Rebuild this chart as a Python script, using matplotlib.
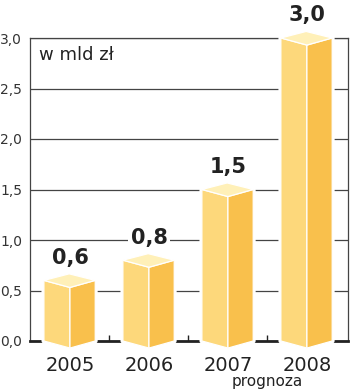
import matplotlib
matplotlib.use("Agg")
import matplotlib.pyplot as plt

years = ["2005", "2006", "2007", "2008"]
values = [0.6, 0.8, 1.5, 3.0]
value_labels = ["0,6", "0,8", "1,5", "3,0"]
y_ticks = [0.0, 0.5, 1.0, 1.5, 2.0, 2.5, 3.0]
y_tick_labels = ["0,0", "0,5", "1,0", "1,5", "2,0", "2,5", "3,0"]

C_FRONT, C_SIDE, C_TOP, C_INK = "#FDD87B", "#F9C04C", "#FFF0B8", "#222222"

fig = plt.figure(figsize=(3.5, 3.89), dpi=100)
ax = fig.add_axes([30 / 350, 48 / 389, 318 / 350, 303 / 389])
ax.set_xlim(-0.506, 3.52)
ax.set_ylim(0, 3.0)

# grid + frame
ax.set_axisbelow(True)
ax.yaxis.grid(True, color="#444444", lw=0.9)
for s in ["left", "right", "top"]:
    ax.spines[s].set_color("#444444")
    ax.spines[s].set_linewidth(0.9)
ax.spines["bottom"].set_color(C_INK)
ax.spines["bottom"].set_linewidth(2)

# pseudo-3D boxes: front edge at the category position
wl, wr, dfront, dback = 0.33, 0.32, 0.07, 0.065
for i, v in enumerate(values):
    outline = [(i - wl, 0), (i - wl, v), (i + wr - wl, v + dback),
               (i + wr, v), (i + wr, 0), (i, -dfront)]
    xs, ys = zip(*outline)
    # white halo that cuts the grid lines around each box
    ax.fill(xs, ys, facecolor="white", edgecolor="white", lw=3.5,
            joinstyle="round", zorder=3, clip_on=False)
    left = [(i - wl, 0), (i - wl, v), (i, v - dfront), (i, -dfront)]
    right = [(i, -dfront), (i, v - dfront), (i + wr, v), (i + wr, 0)]
    top = [(i - wl, v), (i, v - dfront), (i + wr, v), (i + wr - wl, v + dback)]
    for poly, c in [(left, C_FRONT), (right, C_SIDE), (top, C_TOP)]:
        xs, ys = zip(*poly)
        ax.fill(xs, ys, facecolor=c, edgecolor="white", lw=0.9,
                joinstyle="round", zorder=3.5, clip_on=False)
    ax.text(i, v + 0.125, value_labels[i], ha="center", va="bottom",
            fontsize=15, fontweight="bold", color=C_INK, zorder=4,
            bbox=dict(facecolor="white", edgecolor="none", pad=2))

ax.set_yticks(y_ticks)
ax.set_yticklabels(y_tick_labels, fontsize=10, color="#333333", ha="left")
ax.tick_params(axis="y", length=0, pad=21.6)

ax.set_xticks(range(len(years)))
ax.set_xticklabels(years, fontsize=14, color=C_INK)
ax.tick_params(axis="x", which="major", length=0, pad=11)
ax.set_xticks([0.5, 1.5, 2.5], minor=True)
ax.tick_params(axis="x", which="minor", direction="in", length=4.5,
               width=1, color=C_INK)

ax.text(0.028, 0.975, "w mld zł", transform=ax.transAxes, ha="left", va="top",
        fontsize=13, color=C_INK)
ax.annotate("prognoza", xy=(2.5, 0), xycoords=("data", "axes fraction"),
            xytext=(0, -32.5), textcoords="offset points",
            ha="center", va="baseline", fontsize=11, color=C_INK)

fig.savefig("out.png", dpi=100)
